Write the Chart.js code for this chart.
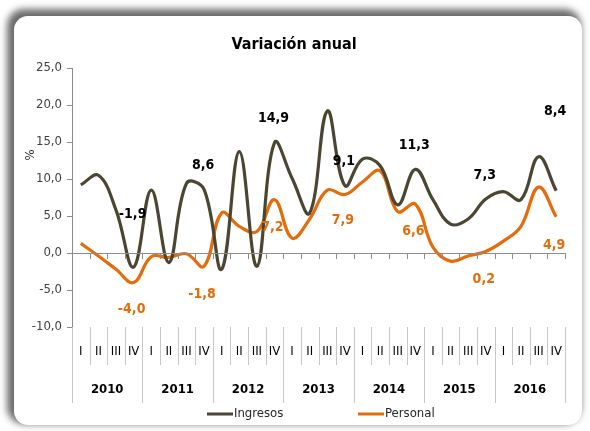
<!DOCTYPE html>
<html lang="es">
<head>
<meta charset="utf-8">
<title>Variación anual</title>
<script src="https://cdn.jsdelivr.net/npm/chart.js@4.4.1/dist/chart.umd.min.js"></script>
<style>
  html, body { margin: 0; padding: 0; background: #ffffff; }
  #wrap { position: relative; width: 590px; height: 431px; overflow: hidden; }
  #frame {
    position: absolute; left: 14px; top: 16px; width: 568px; height: 409px;
    border-radius: 14px; background: #ffffff;
    box-shadow: -4px -4px 7px 3px rgba(70, 70, 70, 0.8);
  }
  #chart { position: absolute; left: 0; top: 0; }
</style>
</head>
<body>
<div id="wrap">
  <div id="frame"></div>
  <canvas id="chart" width="590" height="431"></canvas>
</div>
<script>
// Quarters and years of the category axis
const years = ['2010', '2011', '2012', '2013', '2014', '2015', '2016'];
const quarters = ['I', 'II', 'III', 'IV'];
const categories = years.flatMap(y => quarters.map(q => q + ' ' + y));

// Annual variation (%) per quarter
const ingresos = [
  9.2, 10.5, 5.8, -1.9,
  8.5, -1.3, 9.4, 8.6,
  -2.2, 13.7, -1.8, 14.9,
  10.1, 5.4, 19.2, 9.1,
  12.7, 11.8, 6.5, 11.3,
  7.2, 3.9, 4.6, 7.3,
  8.3, 7.2, 13.0, 8.4
];
const personal = [
  1.3, -0.4, -2.2, -4.0,
  -0.5, -0.6, -0.1, -1.8,
  5.4, 3.6, 2.9, 7.2,
  2.0, 4.6, 8.5, 7.9,
  9.6, 11.1, 5.6, 6.6,
  0.8, -1.1, -0.4, 0.2,
  1.6, 3.6, 8.9, 4.9
];

// Y axis range and step
const yMin = -10, yMax = 25, yStep = 5;

const FONT = "'DejaVu Sans Condensed', 'Liberation Sans Narrow', sans-serif";
const COL_ING = '#4a4632';
const COL_PER = '#e46c0a';

const fmt = v => v.toFixed(1).replace('.', ',');

// Year-end values are annotated; offsets place the text above/below the line
const ingLabelShift = { 3: -53, 7: -24, 11: -24, 15: -24, 19: -24, 23: -24, 27: -79 };
const perLabelShift = { 3: 27, 7: 28, 11: 28, 15: 26, 19: 27, 23: 28, 27: 29 };

const decorations = {
  id: 'decorations',
  afterDraw(chart) {
    const { ctx, chartArea: a, scales: { x, y } } = chart;
    const edge = k => x.getPixelForValue(k - 0.5);
    ctx.save();

    // Title
    ctx.fillStyle = '#000';
    ctx.font = 'bold 16px ' + FONT;
    ctx.textAlign = 'center';
    ctx.textBaseline = 'middle';
    ctx.fillText('Variación anual', 294, 45);

    // Y axis unit
    ctx.save();
    ctx.translate(31, 155);
    ctx.rotate(-Math.PI / 2);
    ctx.font = '13px ' + FONT;
    ctx.fillStyle = '#262626';
    ctx.fillText('%', 0, 0);
    ctx.restore();

    // Category axis line at zero with tick marks between quarters
    const y0 = y.getPixelForValue(0);
    ctx.strokeStyle = '#8c8c8c';
    ctx.lineWidth = 1;
    ctx.beginPath();
    ctx.moveTo(a.left, y0 + 0.5);
    ctx.lineTo(a.right, y0 + 0.5);
    for (let k = 1; k <= categories.length; k++) {
      const px = Math.round(edge(k)) + 0.5;
      ctx.moveTo(px, y0);
      ctx.lineTo(px, y0 + 6);
    }
    ctx.stroke();

    // Two-level category labels under the plot
    const top = a.bottom;
    ctx.strokeStyle = '#c8c8c8';
    ctx.beginPath();
    for (let k = 0; k <= categories.length; k++) {
      const px = Math.round(edge(k)) + 0.5;
      const long = k % 4 === 0;
      ctx.moveTo(px, top);
      ctx.lineTo(px, top + (long ? 76 : 38));
    }
    ctx.stroke();

    ctx.fillStyle = '#000';
    ctx.font = '13px ' + FONT;
    categories.forEach((c, i) => {
      ctx.fillText(quarters[i % 4], x.getPixelForValue(i), top + 25);
    });
    ctx.font = 'bold 13px ' + FONT;
    years.forEach((yr, j) => {
      const cx = (edge(j * 4) + edge(j * 4 + 4)) / 2;
      ctx.fillText(yr, cx, top + 63);
    });

    // Value annotations
    ctx.font = 'bold 14px ' + FONT;
    const m0 = chart.getDatasetMeta(0).data;
    const m1 = chart.getDatasetMeta(1).data;
    ctx.fillStyle = '#000';
    Object.entries(ingLabelShift).forEach(([i, dy]) => {
      const p = m0[i];
      ctx.fillText(fmt(ingresos[i]), p.x - 1, p.y + dy);
    });
    ctx.fillStyle = COL_PER;
    Object.entries(perLabelShift).forEach(([i, dy]) => {
      const p = m1[i];
      ctx.fillText(fmt(personal[i]), p.x - 2, p.y + dy);
    });

    // Legend
    const ly = 414;
    ctx.font = '13px ' + FONT;
    ctx.textAlign = 'left';
    const items = [
      { label: 'Ingresos', color: COL_ING, x0: 207 },
      { label: 'Personal', color: COL_PER, x0: 358 }
    ];
    items.forEach(it => {
      ctx.strokeStyle = it.color;
      ctx.lineWidth = 3;
      ctx.beginPath();
      ctx.moveTo(it.x0, ly);
      ctx.lineTo(it.x0 + 26, ly);
      ctx.stroke();
      ctx.fillStyle = '#262626';
      ctx.fillText(it.label, it.x0 + 27, ly);
    });

    ctx.restore();
  }
};

new Chart(document.getElementById('chart'), {
  type: 'line',
  data: {
    labels: categories,
    datasets: [
      {
        label: 'Ingresos',
        data: ingresos,
        borderColor: COL_ING,
        borderWidth: 3.2,
        pointRadius: 0,
        tension: 0.4,
        fill: false
      },
      {
        label: 'Personal',
        data: personal,
        borderColor: COL_PER,
        borderWidth: 3.2,
        pointRadius: 0,
        tension: 0.4,
        fill: false
      }
    ]
  },
  options: {
    responsive: false,
    animation: false,
    layout: { padding: { left: 0, right: 25, top: 68, bottom: 104 } },
    plugins: {
      legend: { display: false },
      title: { display: false },
      tooltip: { enabled: false }
    },
    scales: {
      x: {
        type: 'category',
        offset: true,
        display: false
      },
      y: {
        min: yMin,
        max: yMax,
        afterFit(scale) { scale.width = 72; },
        ticks: {
          stepSize: yStep,
          padding: 5,
          color: '#404040',
          font: { family: FONT, size: 13 },
          callback: v => fmt(v)
        },
        grid: {
          drawOnChartArea: false,
          drawTicks: true,
          tickLength: 5,
          color: '#8c8c8c'
        },
        border: { display: true, color: '#8c8c8c' }
      }
    }
  },
  plugins: [decorations]
});
</script>
</body>
</html>
